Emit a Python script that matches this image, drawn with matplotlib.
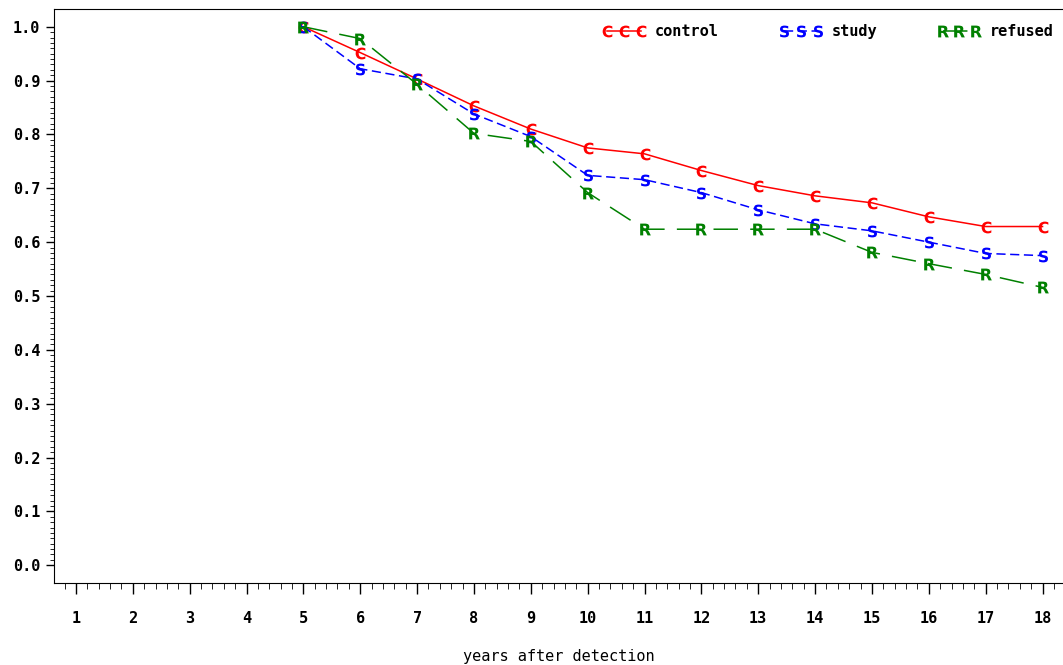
import numpy as np
import matplotlib.pyplot as plt

# Survival by group
years = np.arange(5, 19)
control = [1.0, 0.952, 0.903, 0.853, 0.810, 0.775, 0.764, 0.733, 0.705, 0.686, 0.673, 0.647, 0.629, 0.629]
study = [1.0, 0.922, 0.903, 0.838, 0.796, 0.724, 0.716, 0.692, 0.660, 0.634, 0.621, 0.600, 0.579, 0.575]
refused = [1.0, 0.978, 0.893, 0.802, 0.787, 0.692, 0.624, 0.624, 0.624, 0.624, 0.581, 0.560, 0.540, 0.516]

plt.rcParams['font.family'] = 'DejaVu Sans Mono'
plt.rcParams['font.weight'] = 'bold'

fig = plt.figure(figsize=(10.63, 6.65), dpi=100)
ax = fig.add_axes([0.0508, 0.1233, 0.9492, 0.8632])

mk = dict(ms=8.5, mew=0)
ax.plot(years, control, color='#ff0000', lw=1.1, marker=r'$\mathsf{C}$',
        label='control', **mk)
ax.plot(years, study, color='#0000ff', lw=1.1, dashes=(6, 3), marker=r'$\mathsf{S}$',
        label='study', **mk)
ax.plot(years, refused, color='#008000', lw=1.1, dashes=(16, 8), marker=r'$\mathsf{R}$',
        label='refused', **mk)

ax.set_xlim(0.614, 18.36)
ax.set_ylim(-0.033, 1.033)
ax.set_xticks(np.arange(1, 19))
ax.set_xticks(np.arange(0.8, 18.3, 0.2), minor=True)
ax.set_yticks(np.arange(0, 1.01, 0.1))
ax.set_yticks(np.arange(0, 1.005, 0.01), minor=True)
ax.yaxis.set_major_formatter(plt.FormatStrFormatter('%.1f'))
ax.tick_params(axis='both', which='major', labelsize=11, width=1, colors='black')
ax.tick_params(axis='x', which='major', length=8, pad=12)
ax.tick_params(axis='x', which='minor', length=4)
ax.tick_params(axis='y', which='major', length=6, pad=4)
ax.tick_params(axis='y', which='minor', length=3)
ax.spines['right'].set_visible(False)

ax.set_xlabel('years after detection', fontsize=11, labelpad=17)

ax.legend(loc='upper right', ncol=3, frameon=False, numpoints=3, fontsize=11,
          handlelength=2.8, columnspacing=4.0, handletextpad=0.6,
          bbox_to_anchor=(1.0, 0.9895), borderaxespad=0.2)

fig.savefig('out.png', dpi=100)
